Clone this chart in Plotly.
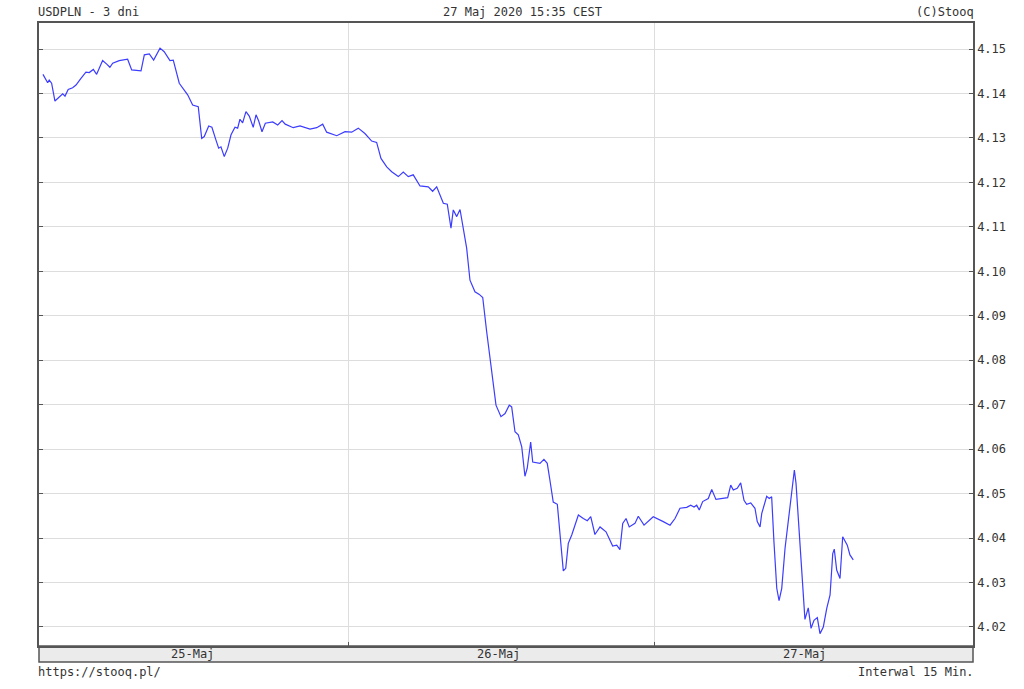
import plotly.graph_objects as go

hours = [0.0, 0.24, 0.37, 0.49, 0.68, 0.94, 1.15, 1.55, 1.73, 1.98, 2.33, 2.59, 2.98, 3.37, 3.63, 3.95,
         4.21, 4.68, 5.00, 5.25, 5.47, 5.98, 6.64, 6.96, 7.69, 7.95, 8.34, 8.68, 9.18, 9.51, 9.96,
         10.22, 10.69, 11.35, 11.74, 12.18, 12.45, 12.65, 13.00, 13.25, 13.57, 13.78, 13.96, 14.22,
         14.49, 14.75, 15.06, 15.27, 15.45, 15.66, 15.92, 16.18, 16.49, 16.71, 16.92, 17.18, 17.44,
         18.02, 18.41, 18.75, 19.00, 19.63, 20.16, 20.94, 21.47, 21.94, 22.25, 23.04, 23.69,
         24.21, 24.73, 25.25, 25.78, 26.17, 26.51, 26.96, 27.35, 27.87, 28.26, 28.65, 29.04, 29.57,
         30.22, 30.56, 30.88, 31.40, 31.71, 32.00, 32.18, 32.45, 32.71, 32.92, 33.23, 33.49, 33.88,
         34.22, 34.49, 34.80, 35.19, 35.53, 35.92, 36.24, 36.57, 36.76, 37.02, 37.28, 37.55, 37.80,
         37.98, 38.25, 38.41, 38.98, 39.29, 39.55, 39.76, 40.02, 40.34, 40.55, 40.81, 41.00, 41.20,
         41.47, 41.99, 42.38, 42.69, 42.96, 43.29, 43.69, 44.16, 44.68, 45.00, 45.25, 45.47, 45.73,
         45.98, 46.43, 46.69, 47.14, 47.86, 48.65, 49.18, 49.57, 49.96, 50.49, 50.80, 51.06, 51.27,
         51.47, 51.74, 52.18, 52.45, 52.78, 53.23, 53.70, 53.94, 54.14, 54.45, 54.72, 54.98, 55.19,
         55.51, 55.84, 56.02, 56.24, 56.37, 56.76, 56.96, 57.15, 57.33, 57.55, 57.73, 57.94, 58.20,
         58.59, 58.80, 58.93, 59.06, 59.32, 59.58, 59.76, 60.02, 60.24, 60.47, 60.73, 60.94, 61.20,
         61.47, 61.73, 61.94, 62.06, 62.25, 62.51, 62.72, 63.08, 63.29, 63.55]

usdpln = [4.1443, 4.1430, 4.1424, 4.1430, 4.1423, 4.1383, 4.1389, 4.1399, 4.1394, 4.1409, 4.1413,
          4.1419, 4.1434, 4.1448, 4.1447, 4.1454, 4.1443, 4.1474, 4.1466, 4.1459, 4.1468, 4.1474,
          4.1477, 4.1453, 4.1451, 4.1487, 4.1489, 4.1475, 4.1502, 4.1494, 4.1474, 4.1475, 4.1423,
          4.1397, 4.1374, 4.1370, 4.1299, 4.1303, 4.1327, 4.1324, 4.1295, 4.1277, 4.1280, 4.1258,
          4.1277, 4.1307, 4.1324, 4.1322, 4.1342, 4.1334, 4.1359, 4.1349, 4.1324, 4.1352, 4.1338,
          4.1314, 4.1333, 4.1336, 4.1329, 4.1339, 4.1331, 4.1323, 4.1327, 4.1320, 4.1323, 4.1331,
          4.1313, 4.1305, 4.1314,
          4.1313, 4.1322, 4.1310, 4.1293, 4.1290, 4.1254, 4.1235, 4.1224, 4.1213, 4.1223, 4.1213,
          4.1217, 4.1192, 4.1190, 4.1180, 4.1190, 4.1153, 4.1151, 4.1097, 4.1138, 4.1123, 4.1139,
          4.1104, 4.1052, 4.0980, 4.0954, 4.0948, 4.0941, 4.0864, 4.0774, 4.0699, 4.0673, 4.0680,
          4.0699, 4.0695, 4.0639, 4.0632, 4.0605, 4.0539, 4.0557, 4.0616, 4.0571, 4.0568, 4.0577,
          4.0568, 4.0530, 4.0481, 4.0476, 4.0403, 4.0326, 4.0332, 4.0388, 4.0407, 4.0452, 4.0444,
          4.0439, 4.0448, 4.0408, 4.0425, 4.0414, 4.0382, 4.0384, 4.0374, 4.0433, 4.0444, 4.0425,
          4.0433, 4.0449, 4.0429, 4.0448,
          4.0437, 4.0429, 4.0444, 4.0467, 4.0469, 4.0474, 4.0470, 4.0474, 4.0463, 4.0482, 4.0489,
          4.0509, 4.0487, 4.0489, 4.0491, 4.0519, 4.0508, 4.0512, 4.0524, 4.0485, 4.0476, 4.0479,
          4.0467, 4.0437, 4.0425, 4.0455, 4.0494, 4.0489, 4.0493, 4.0391, 4.0287, 4.0259, 4.0287,
          4.0377, 4.0474, 4.0519, 4.0553, 4.0523, 4.0414, 4.0287, 4.0217, 4.0243, 4.0197, 4.0215,
          4.0221, 4.0185, 4.0200, 4.0242, 4.0272, 4.0365, 4.0375, 4.0328, 4.0309, 4.0403, 4.0384,
          4.0362, 4.0351]

y_ticks = [4.02, 4.03, 4.04, 4.05, 4.06, 4.07, 4.08, 4.09, 4.10, 4.11, 4.12, 4.13, 4.14, 4.15]
day_bounds = [24, 48]
day_label_pos = [11.75, 35.75, 59.75]
day_labels = ["25-Maj", "26-Maj", "27-Maj"]

FONT = "DejaVu Sans Mono"
TXT = "#333333"
FRAME = "#555555"
GRID = "#dddddd"

fig = go.Figure()
fig.add_trace(go.Scatter(x=hours, y=usdpln, mode="lines",
                         line=dict(color="#3c3cff", width=1.2), hoverinfo="skip",
                         showlegend=False))

W, H = 1024, 689
L, R, T, B = 39, 973, 23, 646
ph = B - T
pw = R - L

fig.update_layout(
    width=W, height=H,
    margin=dict(l=L, r=W - R, t=T, b=H - B, pad=0),
    paper_bgcolor="white", plot_bgcolor="white",
    font=dict(family=FONT, size=12, color=TXT),
    xaxis=dict(range=[-0.31, 72.94], tickvals=day_bounds, showticklabels=False,
               showgrid=True, gridcolor=GRID, gridwidth=1, zeroline=False,
               ticks="inside", ticklen=4, tickcolor=FRAME, tickwidth=1,
               showline=True, linecolor=FRAME, linewidth=1.5, mirror=True, fixedrange=True),
    yaxis=dict(range=[4.01572, 4.15585], side="right", tickvals=y_ticks, tickformat=".2f",
               showgrid=True, gridcolor=GRID, gridwidth=1, zeroline=False,
               ticks="inside", ticklen=4, tickcolor=FRAME, tickwidth=1,
               showline=True, linecolor=FRAME, linewidth=1.5, mirror="allticks",
               tickfont=dict(family=FONT, size=12, color=TXT), fixedrange=True),
)

strip_h = 16 / ph
fig.add_shape(type="rect", xref="paper", yref="paper", x0=0, x1=1, y0=-strip_h, y1=0,
              fillcolor="#ebebeb", line=dict(color=FRAME, width=1.5), layer="below")

for pos, lab in zip(day_label_pos, day_labels):
    fig.add_annotation(x=pos, xref="x", y=-strip_h / 2, yref="paper", text=lab,
                       showarrow=False, xanchor="center", yanchor="middle",
                       font=dict(family=FONT, size=12, color=TXT))

def px_x(x):
    return (x - L) / pw

def px_y(y):
    return (B - y) / ph

fig.add_annotation(x=px_x(36), y=px_y(12), xref="paper", yref="paper", text="USDPLN - 3 dni",
                   showarrow=False, xanchor="left", yanchor="middle")
fig.add_annotation(x=px_x(522), y=px_y(12), xref="paper", yref="paper",
                   text="27 Maj 2020 15:35 CEST", showarrow=False, xanchor="center", yanchor="middle")
fig.add_annotation(x=px_x(976), y=px_y(12), xref="paper", yref="paper", text="(C)Stooq",
                   showarrow=False, xanchor="right", yanchor="middle")
fig.add_annotation(x=px_x(36), y=px_y(672), xref="paper", yref="paper", text="https://stooq.pl/",
                   showarrow=False, xanchor="left", yanchor="middle")
fig.add_annotation(x=px_x(976), y=px_y(672), xref="paper", yref="paper", text="Interwal 15 Min.",
                   showarrow=False, xanchor="right", yanchor="middle")

fig.write_html("out.html", config={"displayModeBar": False},
               post_script="document.body.style.margin='0';document.body.style.overflow='hidden';")
